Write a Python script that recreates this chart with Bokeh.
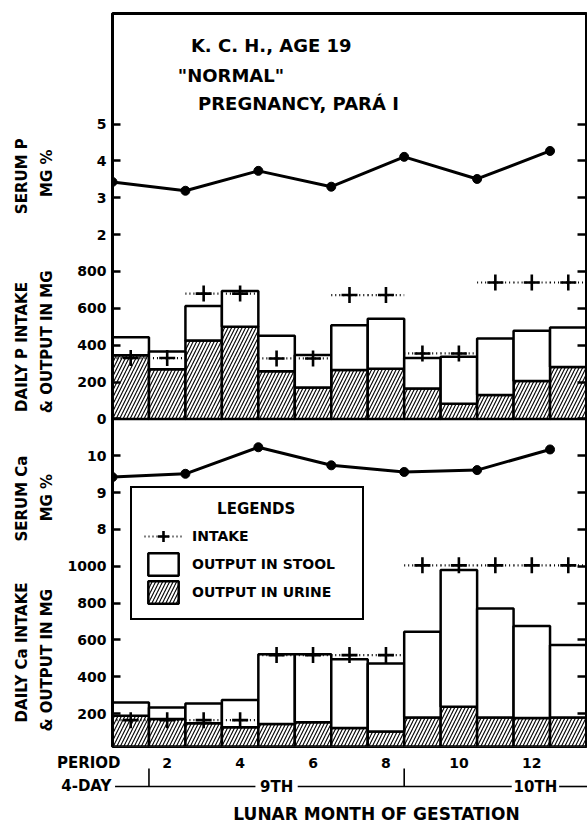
import math
from bokeh.plotting import figure
from bokeh.layouts import column, row
from bokeh.models import (Range1d, LinearAxis, FixedTicker, Label, Legend,
                          LegendItem, ColumnDataSource)
from bokeh.core.properties import value
from bokeh.embed import file_html
from bokeh.resources import INLINE

# ---------------- data ----------------
periods = [1, 2, 3, 4, 5, 6, 7, 8, 9, 10, 11, 12, 13]
x_ticks = [2, 4, 6, 8, 10, 12]
serum_x = [0.5, 2.5, 4.5, 6.5, 8.5, 10.5, 12.5]
serum_p = [3.43, 3.19, 3.73, 3.30, 4.11, 3.51, 4.27]
serum_ca = [9.42, 9.51, 10.23, 9.74, 9.56, 9.61, 10.17]

p_intake = [330, 330, 680, 680, 328, 328, 672, 672, 355, 355, 740, 740, 740]
p_urine = [345, 270, 425, 500, 258, 170, 265, 272, 165, 82, 130, 205, 282]
p_stool = [98, 95, 187, 194, 193, 176, 243, 271, 165, 255, 306, 273, 214]

ca_intake = [165, 165, 165, 165, 518, 518, 518, 518, 1005, 1005, 1005, 1005, 1005]
ca_urine = [189, 171, 148, 126, 144, 153, 123, 104, 180, 238, 180, 177, 180]
ca_stool = [72, 63, 108, 148, 379, 370, 373, 368, 465, 742, 591, 499, 393]

ticks_serum_p = [2, 3, 4, 5]
ticks_p_in = [0, 200, 400, 600, 800]
ticks_serum_ca = [8, 9, 10]
ticks_ca_in = [200, 400, 600, 800, 1000]

# ---------------- layout of the stacked panels ----------------
Y0, Y1 = 0.11, 20.0          # shared "slot" coordinate of the frame
panels = {"serum_p": (12, 1), "p_in": (9, 200), "serum_ca": (-2, 1), "ca_in": (0, 200)}

FONT = "DejaVu Sans"
LEFT_W = 60
TOP_H = 748
FRAME_L, FRAME_R = 112, 586
X0, X1 = 0.5, 13.5

def base(**kw):
    f = figure(output_backend="svg", toolbar_location=None, **kw)
    f.xgrid.visible = False
    f.ygrid.visible = False
    f.background_fill_color = "white"
    f.border_fill_color = "white"
    return f

p = base(width=587 - LEFT_W, height=TOP_H, x_range=Range1d(X0, X1), y_range=Range1d(Y0, Y1),
         x_axis_location=None, min_border_left=FRAME_L - LEFT_W, min_border_right=587 - FRAME_R,
         min_border_top=13, min_border_bottom=TOP_H - 746)
p.extra_y_ranges = {k: Range1d((Y0 - a) * s, (Y1 - a) * s) for k, (a, s) in panels.items()}
p.outline_line_color = "black"
p.outline_line_width = 3

ticks = []
overrides = {}
for name, vals in [("ca_in", ticks_ca_in), ("serum_ca", ticks_serum_ca),
                   ("p_in", ticks_p_in), ("serum_p", ticks_serum_p)]:
    a, s = panels[name]
    for v in vals:
        u = int(round(a + v / s))
        ticks.append(u)
        overrides[u] = str(v)

ya = p.yaxis[0]
ya.ticker = FixedTicker(ticks=ticks)
ya.major_label_overrides = overrides
ya.major_tick_in = 8
ya.major_tick_out = 0
ya.minor_tick_line_color = None
ya.axis_line_width = 3
ya.major_tick_line_width = 2.5
ya.major_label_standoff = 6
ya.major_label_text_font = FONT
ya.major_label_text_font_style = "bold"
ya.major_label_text_font_size = "14px"
ya.major_label_text_color = "black"

ra = LinearAxis(ticker=FixedTicker(ticks=ticks), major_tick_in=9, major_tick_out=0,
                major_label_text_color=None, major_label_standoff=0,
                minor_tick_line_color=None, axis_line_width=3, major_tick_line_width=2.5)
p.add_layout(ra, "right")

# ---------------- bars ----------------
bar_kw = dict(width=1, fill_color="white", line_color="black", line_width=2.5,
              hatch_pattern=["/", " "], hatch_color="black", hatch_scale=7, hatch_weight=1.1)
src_p = ColumnDataSource(dict(period=periods, urine=p_urine, stool=p_stool))
p.vbar_stack(["urine", "stool"], x="period", source=src_p, y_range_name="p_in", **bar_kw)
src_ca = ColumnDataSource(dict(period=periods, urine=ca_urine, stool=ca_stool))
rs_ca = p.vbar_stack(["urine", "stool"], x="period", source=src_ca, y_range_name="ca_in", **bar_kw)

# ---------------- intake ----------------
def intake(vals, rname):
    src = ColumnDataSource(dict(x=periods, x0=[q - 0.5 for q in periods],
                                x1=[q + 0.5 for q in periods], y=vals))
    seg = p.segment(x0="x0", y0="y", x1="x1", y1="y", source=src, y_range_name=rname,
                    line_color="black", line_width=2.2, line_dash="1 3")
    cr = p.scatter(x="x", y="y", source=src, y_range_name=rname, marker="cross",
                   size=16, line_width=2.6, line_color="black")
    return seg, cr

intake(p_intake, "p_in")
seg_ca, cr_ca = intake(ca_intake, "ca_in")

# ---------------- serum ----------------
for vals, rname in [(serum_p, "serum_p"), (serum_ca, "serum_ca")]:
    p.line(serum_x, vals, y_range_name=rname, line_color="black", line_width=3)
    p.scatter(serum_x, vals, y_range_name=rname, size=9, color="black")

# ---------------- legend ----------------
legend = Legend(items=[LegendItem(label="INTAKE", renderers=[seg_ca, cr_ca]),
                       LegendItem(label="OUTPUT IN STOOL", renderers=[rs_ca[1]]),
                       LegendItem(label="OUTPUT IN URINE", renderers=[rs_ca[0]])],
                location=(18, 126), title="\u00a0" * 14 + "LEGENDS", title_text_font=FONT,
                title_text_font_style="bold", title_text_font_size="15px",
                title_text_color="black",
                title_standoff=4, border_line_color="black", border_line_width=2,
                border_line_alpha=1.0,
                background_fill_color="white", background_fill_alpha=1,
                label_text_font=FONT, label_text_font_style="bold",
                label_text_font_size="14px", label_text_color="black",
                glyph_width=38, glyph_height=28, label_height=28, spacing=0,
                padding=12, label_standoff=10, label_width=158, margin=0)
p.add_layout(legend)

def lab(x, y, text, size="14px", align="center"):
    p.add_layout(Label(x=x, y=y, text=text, text_font=FONT, text_font_style="bold",
                       text_font_size=size, text_align=align, text_baseline="middle",
                       text_color="black"))

lab(4.94, 19.13, "K. C. H., AGE  19", "18px")
lab(3.75, 18.33, '"NORMAL"', "18px")
lab(5.6, 17.55, "PREGNANCY, PARÁ I", "18px")

# ---------------- left strip: rotated axis titles (page pixel coords) ----------------
left = base(width=LEFT_W, height=TOP_H, x_range=Range1d(0, LEFT_W), y_range=Range1d(TOP_H, 0),
            min_border=0, x_axis_location=None, y_axis_location=None)
left.outline_line_color = None
left_titles = ["SERUM P", "MG %", "DAILY  P  INTAKE", "& OUTPUT IN MG",
               "SERUM Ca", "MG %", "DAILY Ca INTAKE", "& OUTPUT IN MG"]
left_x = [21, 46, 21, 46, 21, 46, 21, 46]
left_y = [166, 163, 335, 335, 495, 494, 652, 660]
left.text(x=left_x, y=left_y, text=left_titles, angle=math.pi / 2, text_align="center",
          text_baseline="middle", text_font=value(FONT), text_font_style="bold",
          text_font_size="15px", text_color="black")

# ---------------- bottom strip: period axis and lunar month ----------------
BOT_H = 822 - TOP_H
upx = (FRAME_R - FRAME_L) / (X1 - X0)
bottom = base(width=587, height=BOT_H,
              x_range=Range1d(X0 - FRAME_L / upx, X1 + (587 - FRAME_R) / upx),
              y_range=Range1d(822, TOP_H), min_border=0,
              x_axis_location=None, y_axis_location=None)
bottom.outline_line_color = None

tick_kw = dict(text_font=value(FONT), text_font_style="bold", text_color="black",
               text_baseline="middle")
bottom.text(x=x_ticks, y=[762] * len(x_ticks), text=[str(t) for t in x_ticks],
            text_align="center", text_font_size="14px", **tick_kw)
bottom.text(x=[0.72], y=[762], text=["PERIOD"], text_align="right", text_font_size="15px", **tick_kw)
bottom.text(x=[0.47], y=[785], text=["4-DAY"], text_align="right", text_font_size="15px", **tick_kw)
bottom.text(x=[5.0, 12.1], y=[786, 786], text=["9TH", "10TH"], text_align="center",
            text_font_size="15px", **tick_kw)
bottom.text(x=[7.74], y=[813], text=["LUNAR MONTH OF GESTATION"], text_align="center",
            text_font_size="17px", **tick_kw)

bottom.segment(x0=[0.57, 5.58, 12.75, 1.5, 8.5], y0=[786, 786, 786, 786, 786],
               x1=[4.42, 11.45, 13.53, 1.5, 8.5], y1=[786, 786, 786, 768, 768],
               line_color="black", line_width=1.6)

layout = column(row(left, p), bottom)
open("out.html", "w").write(file_html(layout, INLINE))
